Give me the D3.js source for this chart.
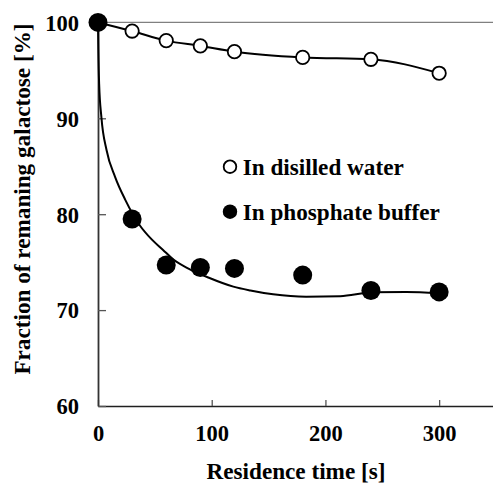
<!DOCTYPE html>
<html>
<head>
<meta charset="utf-8">
<script src="https://cdn.jsdelivr.net/npm/d3@7"></script>
<style>
  body { margin: 0; background: #fff; }
  text { font-family: "Liberation Serif", "Times New Roman", serif; font-weight: bold; }
</style>
</head>
<body>
<div id="chart"></div>
<script>
// dimensions
var width = 493;
var height = 483;

// data
var times = [0, 30, 60, 90, 120, 180, 240, 300];
var waterValues = [100, 99.1, 98.1, 97.55, 96.95, 96.35, 96.15, 94.7];
var bufferValues = [100, 79.5, 74.7, 74.45, 74.35, 73.65, 72.05, 71.9];

// fitted curve for the phosphate buffer series
var fitTimes = [0, 0.3, 1, 3, 7.5, 15, 24, 37, 47, 57, 66, 80, 97, 119, 134, 154, 183, 213, 241, 271, 300];
var fitValues = [100, 97.2, 93.6, 90.1, 86.7, 83.9, 81.5, 78.8, 77.4, 76.3, 75.3, 74.3, 73.4, 72.45, 72.05, 71.65, 71.4, 71.45, 71.85, 71.9, 71.75];

var xTicks = [0, 100, 200, 300];
var yTicks = [60, 70, 80, 90, 100];
var legendLabels = ["In disilled water", "In phosphate buffer"];

var svg = d3.select("#chart")
    .append("svg")
    .attr("width", width)
    .attr("height", height);

var x = d3.scaleLinear().domain([0, 350]).range([98, 496]);
var y = d3.scaleLinear().domain([60, 100]).range([406, 22.4]);

// top frame line
svg.append("line")
    .attr("x1", x(0)).attr("x2", width)
    .attr("y1", y(100)).attr("y2", y(100))
    .attr("stroke", "#808080")
    .attr("stroke-width", 1.4);

// x axis
var xAxis = svg.append("g")
    .attr("transform", "translate(0," + y(60) + ")")
    .call(d3.axisBottom(x).tickValues(xTicks).tickSizeInner(-6).tickSizeOuter(0).tickPadding(19.5));
xAxis.select(".domain").attr("stroke", "#202020").attr("stroke-width", 1.5);
xAxis.selectAll(".tick line").attr("stroke", "#555").attr("stroke-width", 1.3);
xAxis.selectAll("text").attr("font-size", "22.5px").attr("fill", "#000")
    .attr("font-family", "Liberation Serif").attr("font-weight", "bold");

// y axis
var yAxis = svg.append("g")
    .attr("transform", "translate(" + x(0) + ",0)")
    .call(d3.axisLeft(y).tickValues(yTicks).tickSizeInner(-8).tickSizeOuter(0).tickPadding(19));
yAxis.select(".domain").attr("stroke", "#333").attr("stroke-width", 1.8);
yAxis.selectAll(".tick line").attr("stroke", "#555").attr("stroke-width", 1.3);
yAxis.selectAll("text").attr("font-size", "22.5px").attr("fill", "#000")
    .attr("font-family", "Liberation Serif").attr("font-weight", "bold")
    .attr("dy", "0.35em");

// axis titles
svg.append("text")
    .attr("x", 296)
    .attr("y", 479)
    .attr("text-anchor", "middle")
    .attr("font-size", "23.2px")
    .text("Residence time [s]");

svg.append("text")
    .attr("transform", "translate(29.5,199) rotate(-90)")
    .attr("text-anchor", "middle")
    .attr("font-size", "23.2px")
    .text("Fraction of remaning galactose [%]");

// lines
var line = d3.line()
    .x(function (d) { return x(d[0]); })
    .y(function (d) { return y(d[1]); })
    .curve(d3.curveMonotoneX);

svg.append("path")
    .datum(d3.zip(times, waterValues))
    .attr("d", line)
    .attr("fill", "none")
    .attr("stroke", "#000")
    .attr("stroke-width", 2);

svg.append("path")
    .datum(d3.zip(fitTimes, fitValues))
    .attr("d", line)
    .attr("fill", "none")
    .attr("stroke", "#000")
    .attr("stroke-width", 2);

// open circles: distilled water
svg.selectAll(".water")
    .data(d3.zip(times, waterValues))
    .enter()
    .append("circle")
    .attr("class", "water")
    .attr("cx", function (d) { return x(d[0]); })
    .attr("cy", function (d) { return y(d[1]); })
    .attr("r", 6.7)
    .attr("fill", "#fff")
    .attr("stroke", "#000")
    .attr("stroke-width", 1.8);

// filled circles: phosphate buffer
svg.selectAll(".buffer")
    .data(d3.zip(times, bufferValues))
    .enter()
    .append("circle")
    .attr("class", "buffer")
    .attr("cx", function (d) { return x(d[0]); })
    .attr("cy", function (d) { return y(d[1]); })
    .attr("r", 9.5)
    .attr("fill", "#000");

// legend
var legend = svg.selectAll(".legend")
    .data(legendLabels)
    .enter()
    .append("g")
    .attr("class", "legend")
    .attr("transform", function (d, i) {
        return "translate(230," + (166.7 + i * 45) + ")";
    });

legend.append("circle")
    .attr("r", function (d, i) { return i == 0 ? 6.3 : 7.2; })
    .attr("fill", function (d, i) { return i == 0 ? "#fff" : "#000"; })
    .attr("stroke", "#000")
    .attr("stroke-width", function (d, i) { return i == 0 ? 1.8 : 0; });

legend.append("text")
    .attr("x", 12.7)
    .attr("y", 8.3)
    .attr("font-size", "23.2px")
    .text(function (d) { return d; });
</script>
</body>
</html>
